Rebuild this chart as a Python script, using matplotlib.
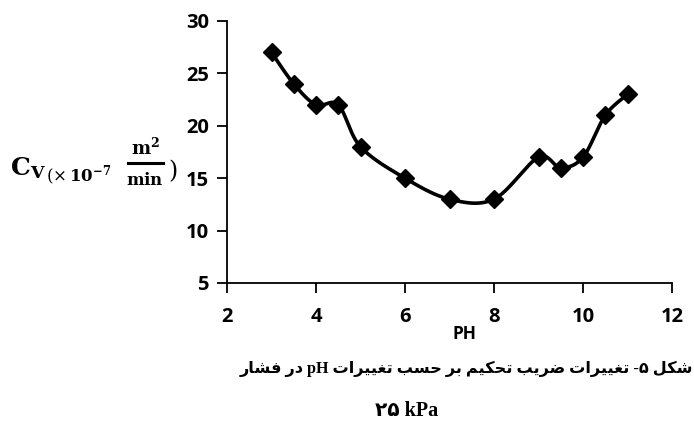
#!/usr/bin/env python3
"""
Coeficiente de consolidação (Cv) em função do pH, pressão de 25 kPa.
Curva suavizada tipo Excel (Bézier / Catmull-Rom) com marcadores em losango.
"""
import numpy as np
import matplotlib
matplotlib.use("Agg")
import matplotlib.pyplot as plt
from matplotlib.lines import Line2D

# ---- dados ----
ph = [3, 3.5, 4, 4.5, 5, 6, 7, 8, 9, 9.5, 10, 10.5, 11]
cv = [27, 24, 22, 22, 18, 15, 13, 13, 17, 16, 17, 21, 23]
x_ticks = [2, 4, 6, 8, 10, 12]
y_ticks = [5, 10, 15, 20, 25, 30]

# legenda da figura (persa), em ordem lógica
caption_words = ["شکل", "۵-", "تغییرات", "ضریب", "تحکیم", "بر", "حسب",
                 "تغییرات", "pH", "در", "فشار"]
caption_line2 = "۲۵ kPa"

# formas de apresentação: (isolada, final, inicial, medial)
FORMS = {
    "ا": ("\ufe8d", "\ufe8e", None, None),
    "ب": ("\ufe8f", "\ufe90", "\ufe91", "\ufe92"),
    "ت": ("\ufe95", "\ufe96", "\ufe97", "\ufe98"),
    "ح": ("\ufea1", "\ufea2", "\ufea3", "\ufea4"),
    "د": ("\ufea9", "\ufeaa", None, None),
    "ر": ("\ufead", "\ufeae", None, None),
    "س": ("\ufeb1", "\ufeb2", "\ufeb3", "\ufeb4"),
    "ش": ("\ufeb5", "\ufeb6", "\ufeb7", "\ufeb8"),
    "ض": ("\ufebd", "\ufebe", "\ufebf", "\ufec0"),
    "غ": ("\ufecd", "\ufece", "\ufecf", "\ufed0"),
    "ف": ("\ufed1", "\ufed2", "\ufed3", "\ufed4"),
    "ل": ("\ufedd", "\ufede", "\ufedf", "\ufee0"),
    "م": ("\ufee1", "\ufee2", "\ufee3", "\ufee4"),
    "ک": ("\ufb8e", "\ufb8f", "\ufb90", "\ufb91"),
    "ی": ("\ufbfc", "\ufbfd", "\ufbfe", "\ufbff"),
}


def shape_word(w):
    """Liga as letras de uma palavra e devolve na ordem visual (esq->dir)."""
    out = []
    for i, ch in enumerate(w):
        if ch not in FORMS:
            out.append(ch)
            continue
        prev = w[i - 1] if i > 0 else None
        nxt = w[i + 1] if i + 1 < len(w) else None
        join_prev = prev in FORMS and FORMS[prev][2] is not None
        join_next = nxt in FORMS and FORMS[ch][2] is not None
        iso, fin, ini, med = FORMS[ch]
        if join_prev and join_next:
            out.append(med)
        elif join_prev:
            out.append(fin)
        elif join_next:
            out.append(ini)
        else:
            out.append(iso)
    return "".join(out[::-1])


def rtl_line(words):
    vis = []
    for w in words[::-1]:
        if w[0].isascii():
            vis.append(w)
        elif w.endswith("-"):
            vis.append("-" + w[:-1])
        else:
            vis.append(shape_word(w))
    return " ".join(vis)


def smooth(xs, ys, n=30):
    """Curva suavizada passando pelos pontos (Bézier cúbica, estilo Excel)."""
    p = np.column_stack([xs, ys]).astype(float)
    segs = []
    t = np.linspace(0, 1, n)[:, None]
    for i in range(len(p) - 1):
        p0 = p[max(i - 1, 0)]
        p1, p2 = p[i], p[i + 1]
        p3 = p[min(i + 2, len(p) - 1)]
        c1 = p1 + (p2 - p0) / 6
        c2 = p2 - (p3 - p1) / 6
        seg = (1 - t) ** 3 * p1 + 3 * (1 - t) ** 2 * t * c1 \
            + 3 * (1 - t) * t ** 2 * c2 + t ** 3 * p2
        segs.append(seg if i == 0 else seg[1:])
    s = np.vstack(segs)
    return s[:, 0], s[:, 1]


# ---- gráfico ----
W, H = 694, 426
fig = plt.figure(figsize=(W / 100, H / 100), dpi=100)
ax = fig.add_axes([227 / W, 1 - 283 / H, (672 - 227) / W, (283 - 21) / H])

sx, sy = smooth(ph, cv)
ax.plot(sx, sy, color="black", lw=2.6, solid_capstyle="round")
ax.plot(ph, cv, ls="none", marker="D", ms=9, color="black")

ax.set_xlim(2, 12)
ax.set_ylim(5, 30)
ax.set_xticks(x_ticks)
ax.set_yticks(y_ticks)
for s in ("top", "right"):
    ax.spines[s].set_visible(False)
for s in ("left", "bottom"):
    ax.spines[s].set_linewidth(1.3)
ax.tick_params(direction="out", length=7, width=1.3, pad=6)
ax.tick_params(axis="x", pad=10)
for lab in ax.get_xticklabels() + ax.get_yticklabels():
    lab.set_fontfamily("Open Sans")
    lab.set_fontweight("bold")
    lab.set_fontsize(14.5)


def fx(px):
    return px / W


def fy(py):
    return 1 - py / H


# rótulo do eixo x, colado aos valores
fig.text(fx(465), fy(334), "PH", family="Open Sans", weight="bold",
         fontsize=12.5, ha="center", va="center")

# rótulo do eixo y: Cv (x 10^-7 m2/min)
plt.rcParams["mathtext.fontset"] = "dejavuserif"
fig.text(fx(10), fy(168), r"$\mathbf{C}_{\mathbf{V}}$",
         fontsize=18, ha="left", va="center")
fig.text(fx(46), fy(176), r"$(\times\,\mathbf{10^{-7}}$",
         fontsize=12, ha="left", va="center")
fig.text(fx(145), fy(148), r"$\mathbf{m^2}$",
         fontsize=13, ha="center", va="center")
fig.text(fx(145), fy(180), r"$\mathbf{min}$",
         fontsize=12, ha="center", va="center")
fig.add_artist(Line2D([fx(128), fx(163)], [fy(163), fy(163)],
                      color="black", lw=2.2, transform=fig.transFigure))
fig.text(fx(168), fy(172), ")", family="DejaVu Serif",
         fontsize=17, ha="left", va="center")

# legenda em persa
fam = ["Liberation Serif", "DejaVu Sans"]
fig.text(fx(466), fy(369), rtl_line(caption_words), family=fam,
         weight="bold", fontsize=11.6, ha="center", va="center")
fig.text(fx(407), fy(411), caption_line2, family=fam,
         weight="bold", fontsize=14.5, ha="center", va="center")

fig.savefig("out.png", dpi=100)
